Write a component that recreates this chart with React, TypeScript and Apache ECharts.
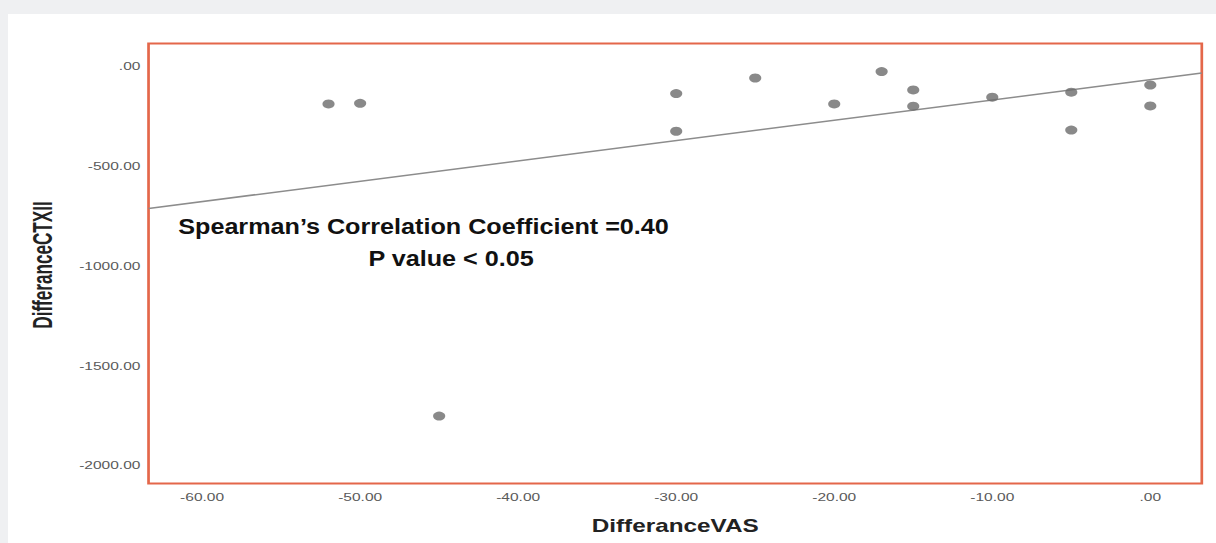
import React, { useEffect, useRef } from "react";
import * as echarts from "echarts";

// Tick values
const xTicks = [-60, -50, -40, -30, -20, -10, 0];
const yTicks = [0, -500, -1000, -1500, -2000];

// Observations (DifferanceVAS, DifferanceCTXII)
const vasDiff = [-52, -50, -45, -30, -30, -25, -20, -17, -15, -15, -10, -5, -5, 0, 0];
const ctxDiff = [-187, -184, -1752, -135, -324, -57, -187, -25, -117, -198, -153, -128, -318, -92, -197];

// Fit line end points
const fitX = [-63.39, 3.26];
const fitY = [-711, -32];

// Axis extents
const xRange = [-63.39, 3.26];
const yRange = [-2090, 116];

const STRETCH = 1.35;
const PANEL_W = 1208;
const PANEL_H = 529;

const fmt = (v: number) => (v === 0 ? ".00" : v.toFixed(2));

export default function App() {
  const ref = useRef<HTMLDivElement>(null);
  useEffect(() => {
    document.body.style.margin = "0";
    const chart = echarts.init(ref.current!, null, { renderer: "svg" });
    const points = vasDiff.map((x, i) => [x, ctxDiff[i]]);
    const fit = fitX.map((x, i) => [x, fitY[i]]);
    const boldFont = "Liberation Sans, Arial, sans-serif";
    chart.setOption({
      animation: false,
      backgroundColor: "#ffffff",
      grid: {
        show: true,
        left: 104.1,
        right: 10.7,
        top: 29.5,
        bottom: 59.5,
        borderColor: "#e4674a",
        borderWidth: 2,
        backgroundColor: "#ffffff",
      },
      xAxis: {
        type: "value",
        min: xRange[0],
        max: xRange[1],
        name: "DifferanceVAS",
        nameLocation: "middle",
        nameGap: 34,
        nameTextStyle: {
          fontFamily: boldFont,
          fontWeight: "bold",
          fontSize: 18,
          color: "#222222",
        },
        axisLine: { show: false },
        axisTick: { show: false },
        splitLine: { show: false },
        axisLabel: {
          customValues: xTicks,
          formatter: fmt,
          margin: 8,
          fontFamily: "Liberation Sans, Arial, sans-serif",
          fontSize: 11.5,
          color: "#5a5a5a",
        },
      },
      yAxis: {
        type: "value",
        min: yRange[0],
        max: yRange[1],
        axisLine: { show: false },
        axisTick: { show: false },
        splitLine: { show: false },
        axisLabel: {
          customValues: yTicks,
          formatter: fmt,
          margin: 6,
          fontFamily: "Liberation Sans, Arial, sans-serif",
          fontSize: 11.5,
          color: "#5a5a5a",
        },
      },
      series: [
        {
          type: "line",
          data: fit,
          symbol: "none",
          silent: true,
          lineStyle: { color: "#8c8c8c", width: 1.5 },
          z: 2,
        },
        {
          type: "scatter",
          data: points,
          symbol: "circle",
          symbolSize: 9,
          itemStyle: { color: "#6b6b6b" },
          z: 3,
        },
      ],
      graphic: [
        {
          type: "text",
          x: 25.2,
          y: 251,
          rotation: Math.PI / 2,
          scaleX: 0.835,
          z: 10,
          style: {
            text: "DifferanceCTXII",
            fontFamily: boldFont,
            fontWeight: "bold",
            fontSize: 20.5,
            fill: "#222222",
            textAlign: "center",
            textVerticalAlign: "middle",
          },
        },
        {
          type: "text",
          x: 307.8,
          y: 213,
          scaleX: 0.848,
          z: 10,
          style: {
            text: "Spearman\u2019s Correlation Coefficient =0.40",
            fontFamily: boldFont,
            fontWeight: "bold",
            fontSize: 22,
            fill: "#111111",
            textAlign: "center",
            textVerticalAlign: "middle",
          },
        },
        {
          type: "text",
          x: 328.2,
          y: 245,
          scaleX: 0.848,
          z: 10,
          style: {
            text: "P value < 0.05",
            fontFamily: boldFont,
            fontWeight: "bold",
            fontSize: 22,
            fill: "#111111",
            textAlign: "center",
            textVerticalAlign: "middle",
          },
        },
      ],
    });
    return () => chart.dispose();
  }, []);
  return (
    <div
      style={{
        position: "absolute",
        left: 0,
        top: 0,
        width: 1216,
        height: 543,
        background: "#eff0f2",
        overflow: "hidden",
      }}
    >
      <div
        style={{
          position: "absolute",
          left: 8,
          top: 14,
          width: PANEL_W,
          height: PANEL_H,
          background: "#ffffff",
          overflow: "hidden",
        }}
      >
        <div
          ref={ref}
          style={{
            width: PANEL_W / STRETCH,
            height: PANEL_H,
            transform: `scaleX(${STRETCH})`,
            transformOrigin: "0 0",
          }}
        />
      </div>
    </div>
  );
}
